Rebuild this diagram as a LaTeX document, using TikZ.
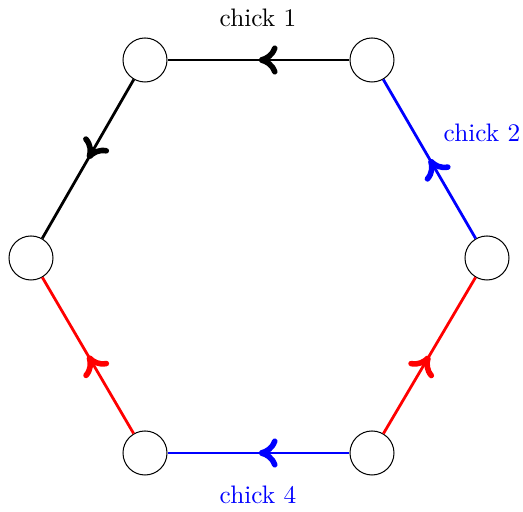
\documentclass[tikz,border=0pt]{standalone}
\usetikzlibrary{decorations.markings,arrows.meta}
\begin{document}
\begin{tikzpicture}[x=0.3953pt,y=-0.3953pt,
  vtx/.style={circle,draw,line width=0.4pt,minimum size=17.4pt,inner sep=0pt},
  edge/.style={line width=1.1pt,postaction={decorate},
    decoration={markings,mark=at position 0.5 with {\arrow{Computer Modern Rightarrow[line width=2.2pt,length=7.5pt,width=11.5pt]}}}},
  lbl/.style={font=\normalsize}]
\useasboundingbox (0,0) rectangle (523,512);
\node[vtx] (A) at (372,60) {};
\node[vtx] (B) at (145,60) {};
\node[vtx] (C) at (31,258) {};
\node[vtx] (D) at (145,453) {};
\node[vtx] (E) at (372,453) {};
\node[vtx] (F) at (487,258) {};
\draw[edge,black] (A) -- (B);
\draw[edge,black] (B) -- (C);
\draw[edge,blue] (F) -- (A);
\draw[edge,red] (E) -- (F);
\draw[edge,blue] (E) -- (D);
\draw[edge,red] (D) -- (C);
\node[lbl,black] (l1) at (258,18) {chick 1};
\node[lbl,blue] (l2) at (482,133) {chick 2};
\node[lbl,blue] (l4) at (258,495) {chick 4};
\end{tikzpicture}
\end{document}
